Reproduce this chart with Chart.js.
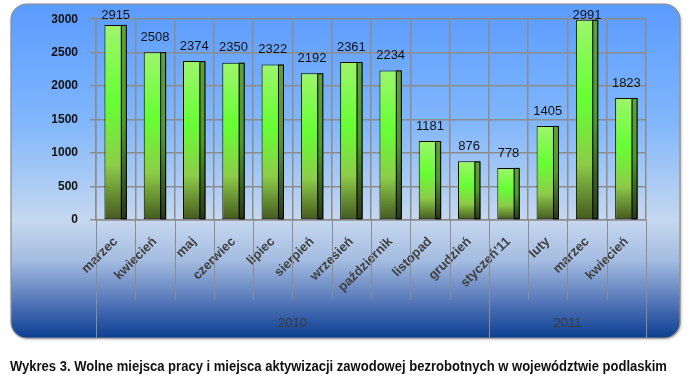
<!DOCTYPE html>
<html lang="pl">
<head>
<meta charset="UTF-8">
<title>Wykres 3</title>
<script src="https://cdn.jsdelivr.net/npm/chart.js"></script>
<style>
  body { margin: 0; background: #fff; width: 693px; height: 382px; overflow: hidden; position: relative; }
  #chart { position: absolute; left: 0; top: 0; }
  .caption {
    position: absolute; left: 10px; top: 358px; white-space: nowrap;
    font-family: "Liberation Sans Narrow", "Liberation Sans", sans-serif;
    font-weight: bold; font-size: 14px; color: #111; transform-origin: 0 0;
  }
</style>
</head>
<body>
<canvas id="chart" width="693" height="382"></canvas>
<div class="caption" id="caption">Wykres 3. Wolne miejsca pracy i miejsca aktywizacji zawodowej bezrobotnych w województwie podlaskim</div>

<script>
// dane
const months = ['marzec', 'kwiecień', 'maj', 'czerwiec', 'lipiec', 'sierpień', 'wrzesień',
                'październik', 'listopad', 'grudzień', "styczeń'11", 'luty', 'marzec', 'kwiecień'];
const values = [2915, 2508, 2374, 2350, 2322, 2192, 2361, 2234, 1181, 876, 778, 1405, 2991, 1823];
const years = ['2010', '2011'];
const yearSpans = [10, 4];
const yMin = 0, yMax = 3000, yStep = 500;

// caption width like in the original (about 657px)
const cap = document.getElementById('caption');
cap.style.transform = 'scaleX(' + (657 / cap.offsetWidth) + ')';

// background panel with rounded corners
const panelBg = {
    id: 'panelBg',
    beforeDraw(chart) {
        const ctx = chart.ctx;
        const x = 11, y = 4, w = 669, h = 334, r = 16;
        ctx.save();
        ctx.beginPath();
        ctx.roundRect(x, y, w, h, r);
        const g = ctx.createLinearGradient(0, y, 0, y + h);
        g.addColorStop(0, '#5a9bff');
        g.addColorStop(0.35, '#80b6fb');
        g.addColorStop(0.65, '#c6d8ef');
        g.addColorStop(0.77, '#a3bbe0');
        g.addColorStop(0.89, '#5577b9');
        g.addColorStop(1, '#0b3e91');
        ctx.shadowColor = 'rgba(0,0,0,0.35)';
        ctx.shadowBlur = 3;
        ctx.shadowOffsetX = 1;
        ctx.shadowOffsetY = 1;
        ctx.fillStyle = g;
        ctx.fill();
        ctx.shadowColor = 'transparent';
        ctx.strokeStyle = '#8e8e8e';
        ctx.lineWidth = 1.2;
        ctx.stroke();
        ctx.restore();
    }
};

// right side face of the bars + value labels
const barExtras = {
    id: 'barExtras',
    afterDatasetsDraw(chart) {
        const ctx = chart.ctx;
        const meta = chart.getDatasetMeta(0);
        ctx.save();
        meta.data.forEach((bar, i) => {
            const right = bar.x + bar.width / 2;
            const sideW = Math.round(bar.width * 0.28);
            const g = ctx.createLinearGradient(0, bar.y, 0, bar.base);
            g.addColorStop(0, '#5fa03a');
            g.addColorStop(0.5, '#4f9a2a');
            g.addColorStop(1, '#2b3816');
            ctx.fillStyle = g;
            ctx.fillRect(right - sideW, bar.y, sideW, bar.base - bar.y);
            ctx.strokeStyle = '#000';
            ctx.lineWidth = 1;
            ctx.strokeRect(right - sideW + 0.5, bar.y + 0.5, sideW - 1, bar.base - bar.y - 1);

            ctx.fillStyle = '#111';
            ctx.font = '13px "Liberation Sans", sans-serif';
            ctx.textAlign = 'center';
            ctx.textBaseline = 'middle';
            ctx.fillText(String(values[i]), bar.x, Math.max(bar.y - 15, 15));
        });
        ctx.restore();
    }
};

// lines under the axis and year groups
const groups = {
    id: 'groups',
    afterDraw(chart) {
        const ctx = chart.ctx;
        const xs = chart.scales.x;
        const base = chart.chartArea.bottom;
        const half = (xs.getPixelForValue(1) - xs.getPixelForValue(0)) / 2;
        const edge = k => xs.getPixelForValue(k) - half;
        const groupEdges = [0];
        yearSpans.forEach(n => groupEdges.push(groupEdges[groupEdges.length - 1] + n));
        ctx.save();
        ctx.strokeStyle = '#8c8c8c';
        ctx.lineWidth = 1;
        for (let k = 0; k <= months.length; k++) {
            const px = Math.round(edge(k)) + 0.5;
            const long = groupEdges.includes(k);
            ctx.beginPath();
            ctx.moveTo(px, base);
            ctx.lineTo(px, long ? 338 : 300);
            ctx.stroke();
        }
        ctx.fillStyle = '#3c3c3c';
        ctx.font = '13px "Liberation Sans", sans-serif';
        ctx.textAlign = 'center';
        ctx.textBaseline = 'middle';
        years.forEach((yr, i) => {
            const mid = (edge(groupEdges[i]) + edge(groupEdges[i + 1])) / 2;
            ctx.fillText(yr, mid, 323);
        });
        ctx.restore();
    }
};

function frontGradient(c) {
    const chart = c.chart;
    const ys = chart.scales.y;
    if (!ys || c.raw === undefined) return '#66ff33';
    const top = ys.getPixelForValue(c.raw);
    const bot = ys.getPixelForValue(0);
    if (!isFinite(top) || !isFinite(bot) || top === bot) return '#66ff33';
    const g = chart.ctx.createLinearGradient(0, top, 0, bot);
    g.addColorStop(0, '#9ef56c');
    g.addColorStop(0.4, '#66ff33');
    g.addColorStop(0.72, '#8dcc48');
    g.addColorStop(1, '#45581f');
    return g;
}

const ctx = document.getElementById('chart').getContext('2d');
new Chart(ctx, {
    type: 'bar',
    data: {
        labels: months,
        datasets: [{
            data: values,
            backgroundColor: frontGradient,
            borderColor: '#000',
            borderWidth: 1,
            borderSkipped: false,
            categoryPercentage: 1,
            barPercentage: 0.57
        }]
    },
    options: {
        responsive: false,
        animation: false,
        layout: { padding: { left: 0, right: 47, top: 14, bottom: 0 } },
        plugins: {
            legend: { display: false },
            tooltip: { enabled: false }
        },
        scales: {
            x: {
                afterFit: s => { s.height = 162; },
                grid: { color: '#8c8c8c', lineWidth: 1.5, drawTicks: false, offset: true },
                border: { color: '#8c8c8c', width: 1.5 },
                ticks: {
                    autoSkip: false,
                    minRotation: 45,
                    maxRotation: 45,
                    padding: 14,
                    color: '#404040',
                    font: { family: '"Liberation Sans", sans-serif', size: 13, weight: 'bold' }
                }
            },
            y: {
                min: yMin,
                max: yMax,
                afterFit: s => { s.width = 96; },
                grid: { color: '#8c8c8c', lineWidth: 1.5, tickLength: 6 },
                border: { color: '#8c8c8c', width: 1.5 },
                ticks: {
                    stepSize: yStep,
                    padding: 12,
                    color: '#111',
                    callback: v => String(v),
                    font: { family: '"Liberation Sans", sans-serif', size: 12, weight: 'bold' }
                }
            }
        }
    },
    plugins: [panelBg, barExtras, groups]
});
</script>
</body>
</html>
